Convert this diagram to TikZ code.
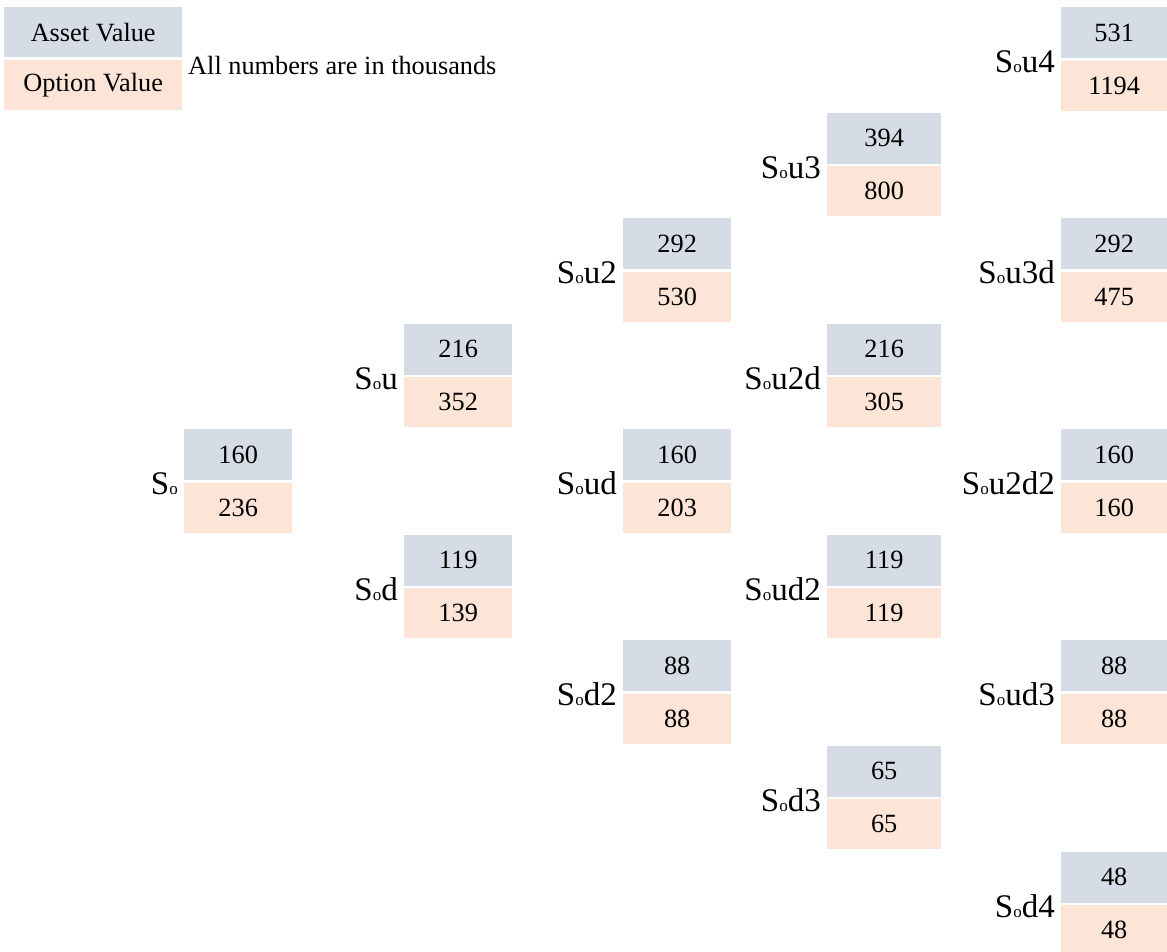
\documentclass[tikz,border=0pt]{standalone}
\usepackage{fontspec}
\setmainfont{Liberation Serif}
\definecolor{assetc}{HTML}{D6DCE5}
\definecolor{optc}{HTML}{FCE4D6}
\tikzset{
  cellbase/.style={inner sep=0pt, font=\fontsize{26.3}{27}\selectfont, text=black},
  assetcell/.style={cellbase, fill=assetc, minimum height=51pt},
  optcell/.style={cellbase, fill=optc, minimum height=50pt},
  lbl/.style={inner sep=0pt, anchor=base east, font=\fontsize{33}{34}\selectfont},
  notetext/.style={inner sep=0pt, anchor=base west, font=\fontsize{26.3}{27}\selectfont},
}
\newcommand{\subo}{{\fontsize{17}{17}\selectfont o}}
% name, xleft, width, ycenter, asset, option, label
\newcommand{\treebox}[7]{%
  \node[assetcell, minimum width=#3pt, anchor=south west] (#1a) at (#2,#4-1) {#5};
  \node[optcell, minimum width=#3pt, anchor=north west] (#1b) at (#2,#4+1) {#6};
  \node[lbl] (#1l) at (#2-6,#4+13) {#7};
}
\begin{document}
\begin{tikzpicture}[x=1pt,y=-1pt]
\useasboundingbox (0,0) rectangle (1167,951);
% legend
\node[assetcell, minimum width=178pt, minimum height=50pt, anchor=north west] (legA) at (4,7) {Asset Value};
\node[optcell, minimum width=178pt, minimum height=50pt, anchor=north west] (legB) at (4,60) {Option Value};
\node[notetext] (note) at (188,74) {All numbers are in thousands};
% column 0
\treebox{s0}{184}{108}{481.5}{160}{236}{S\subo}
% column 1
\treebox{su}{404}{108}{376}{216}{352}{S\subo u}
\treebox{sd}{404}{108}{587}{119}{139}{S\subo d}
% column 2
\treebox{suu}{623}{108}{270.5}{292}{530}{S\subo u2}
\treebox{sud}{623}{108}{481.5}{160}{203}{S\subo ud}
\treebox{sdd}{623}{108}{692.5}{88}{88}{S\subo d2}
% column 3
\treebox{suuu}{827}{114}{165}{394}{800}{S\subo u3}
\treebox{suud}{827}{114}{376}{216}{305}{S\subo u2d}
\treebox{sudd}{827}{114}{587}{119}{119}{S\subo ud2}
\treebox{sddd}{827}{114}{798}{65}{65}{S\subo d3}
% column 4
\treebox{suuuu}{1061}{106}{59.5}{531}{1194}{S\subo u4}
\treebox{suuud}{1061}{106}{270.5}{292}{475}{S\subo u3d}
\treebox{suudd}{1061}{106}{481.5}{160}{160}{S\subo u2d2}
\treebox{suddd}{1061}{106}{692.5}{88}{88}{S\subo ud3}
\treebox{sdddd}{1061}{106}{904}{48}{48}{S\subo d4}
\end{tikzpicture}
\end{document}
